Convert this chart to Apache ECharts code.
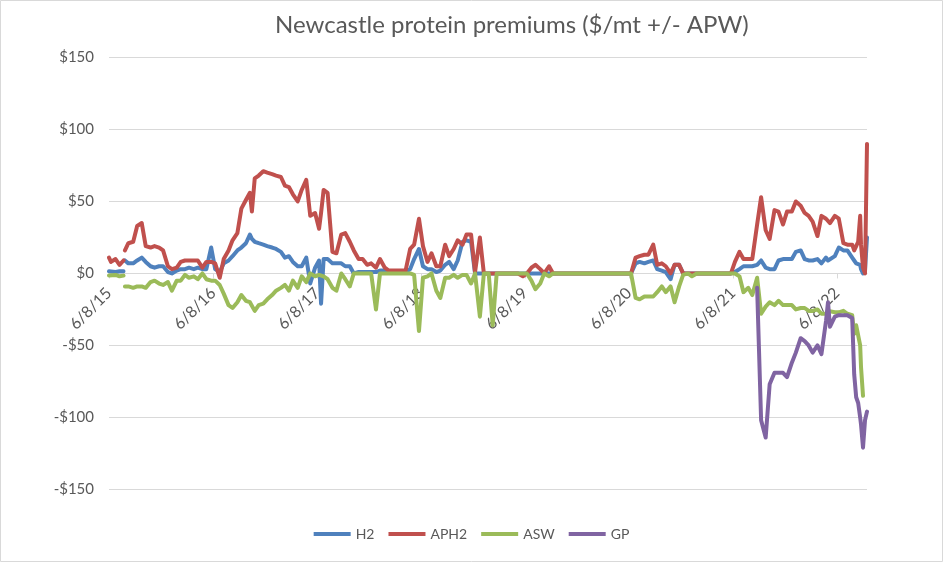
<!DOCTYPE html>
<html>
<head>
<meta charset="utf-8">
<script src="https://cdn.jsdelivr.net/npm/echarts@6/dist/echarts.min.js"></script>
<style>
html,body{margin:0;padding:0;background:#fff;}
#chart{width:943px;height:562px;}
</style>
</head>
<body>
<div id="chart"></div>
<script>
// ---- data ----
const dates = [
'2015-06-08','2015-06-15','2015-07-01','2015-07-15','2015-07-29','2015-07-31','2015-08-03','2015-08-15',
'2015-09-01','2015-09-15','2015-10-01','2015-10-15','2015-11-01','2015-11-15','2015-12-01','2015-12-15',
'2016-01-01','2016-01-15','2016-02-01','2016-02-15','2016-03-01','2016-03-15','2016-04-01','2016-04-15',
'2016-05-01','2016-05-15','2016-06-01','2016-06-15','2016-07-01','2016-07-15','2016-08-01','2016-08-15',
'2016-09-01','2016-09-15','2016-10-01','2016-10-15','2016-10-22','2016-11-01','2016-11-15','2016-12-01','2016-12-15',
'2017-01-01','2017-01-15','2017-02-01','2017-02-15','2017-03-01','2017-03-15','2017-04-01','2017-04-15',
'2017-05-01','2017-05-15','2017-06-01','2017-06-15','2017-06-22','2017-07-01','2017-07-15','2017-08-01','2017-08-15',
'2017-09-01','2017-09-15','2017-10-01','2017-10-15','2017-11-01','2017-11-15','2017-12-01','2017-12-15',
'2018-01-01','2018-01-15','2018-02-01','2018-02-15','2018-03-01','2018-03-15','2018-04-01','2018-04-15',
'2018-05-01','2018-05-15','2018-06-01','2018-06-15','2018-07-01','2018-07-15','2018-08-01','2018-08-15',
'2018-09-01','2018-09-15','2018-10-01','2018-10-15','2018-11-01','2018-11-15','2018-12-01','2018-12-15',
'2019-01-01','2019-01-15','2019-02-01','2019-02-15','2019-03-01','2019-03-15','2019-04-01','2019-04-15',
'2019-05-01','2019-05-15','2019-06-01','2019-06-15','2019-07-01','2019-07-15','2019-08-01','2019-08-15',
'2019-09-01','2019-09-15','2019-10-01','2019-10-15','2019-11-01','2019-11-15','2019-12-01','2019-12-15',
'2020-01-01','2020-01-15','2020-02-01','2020-02-15','2020-03-01','2020-03-15','2020-04-01','2020-04-15',
'2020-05-01','2020-05-15','2020-06-01','2020-06-15','2020-07-01','2020-07-15','2020-08-01','2020-08-15',
'2020-09-01','2020-09-15','2020-10-01','2020-10-15','2020-11-01','2020-11-15','2020-12-01','2020-12-15',
'2021-01-01','2021-01-15','2021-02-01','2021-02-15','2021-03-01','2021-03-15','2021-04-01','2021-04-15',
'2021-05-01','2021-05-15','2021-06-01','2021-06-15','2021-07-01','2021-07-15','2021-08-01','2021-08-15',
'2021-09-01','2021-09-15','2021-10-01','2021-10-15','2021-11-01','2021-11-15','2021-12-01','2021-12-15',
'2022-01-01','2022-01-15','2022-02-01','2022-02-15','2022-03-01','2022-03-15','2022-04-01','2022-04-15',
'2022-05-01','2022-05-08','2022-05-15','2022-06-01','2022-06-15','2022-07-01','2022-07-15',
'2022-08-01','2022-08-08','2022-08-15','2022-08-22','2022-08-29','2022-09-01','2022-09-08','2022-09-15','2022-09-22'
];

const H2 = [
1.5,1.5,1,1.5,1.5,null,9,7, 7,9,11,8,5,4,5,5,
1,0,2,3,3,4,3,4, 3,3,18,3,1,7,9,12,
16,18,21,27,24,22,21,20,19,
18,17,15,11,12,8,5,5, 11,-7,4,9,-21,10,10,7,7,
7,5,5,0,1,1,1,1,
1,2,2,1,1,1,1,1, 3,10,17,5,3,3,1,2,
6,8,3,9,22,23,22,0,
0,0,0,0,0,0,0,0, 0,0,0,0,0,0,0,0,
0,0,0,0,0,0,0,0, 0,0,0,0,0,0,0,0,
0,0,0,0,7,8,7,8, 9,3,2,1,-4,6,6,0,
0,0,0,0,0,0,0,0, 0,0,0,1,3,5,5,5,
6,9,4,3,3,9,10,10, 10,15,16,10,9,9,10,7,
11,9,8,12,18,16,16, 11,9,7,6,6,3,0,2,25
];

const APH2 = [
11,8,10,6,9,null,16,21, 22,33,35,19,18,19,18,16,
5,3,4,8,9,9,9,9, 4,8,8,7,-3,10,16,23,
28,45,51,56,43,66,68,71,70,
69,68,67,61,60,55,50,58, 65,40,42,31,42,58,56,15,14,
27,28,22,16,10,10,6,7,
4,10,4,2,2,2,2,2, 17,20,38,19,8,14,5,5,
20,12,17,23,20,27,27,1,
25,0,0,0,0,0,0,0, 0,0,-2,0,4,6,3,0,
5,0,0,0,0,0,0,0, 0,0,0,0,0,0,0,0,
0,0,0,0,11,12,13,13, 20,6,7,5,0,6,6,0,
0,0,0,0,0,0,0,0, 0,0,0,8,15,10,10,10,
34,53,30,24,44,43,34,43, 43,50,47,42,40,36,26,40,
38,39,35,40,38,21,20, 20,16,19,22,40,20,4,0,90
];

const ASW = [
-1.5,-2,-1,-2,-1.5,null,-9,-9, -10,-9,-9,-10,-6,-5,-7,-8,
-6,-12,-5,-5,-1,-3,-2,-4, 0,-4,-5,-5,-8,-14,-22,-24,
-20,-15,-19,-20,-20,-26,-22,-21,-18,
-15,-12,-10,-8,-12,-5,-10,-2, -6,0,-2,-1,-1,-2,-4,-10,-12,
0,-4,-9,0,0,0,0,0,
-25,0,0,0,0,0,0,0, 0,-1,-40,-3,-2,0,-12,-17,
-3,-3,-1,-3,-1,-1,-7,0,
-30,0,0,-36,0,0,0,0, 0,0,0,0,-5,-11,-7,0,
-2,0,0,0,0,0,0,0, 0,0,0,0,0,0,0,0,
0,0,0,0,-17,-18,-16,-16, -16,-13,-9,-13,-9,-20,-9,-1,
0,-2,0,0,0,0,0,0, 0,0,0,0,-2,-13,-10,-15,
-3,-28,-23,-20,-22,-19,-22,-22, -22,-25,-24,-24,-26,-26,-25,-28,
-28,-26,-27,-27,-27,-26,-28, -29,-42,-36,-35,-50,-65,-85,null,null
];

const GP = [
null,null,null,null,null,null,null,null, null,null,null,null,null,null,null,null,
null,null,null,null,null,null,null,null, null,null,null,null,null,null,null,null,
null,null,null,null,null,null,null,null,null,
null,null,null,null,null,null,null,null, null,null,null,null,null,null,null,null,null,
null,null,null,null,null,null,null,null,
null,null,null,null,null,null,null,null, null,null,null,null,null,null,null,null,
null,null,null,null,null,null,null,null,
null,null,null,null,null,null,null,null, null,null,null,null,null,null,null,null,
null,null,null,null,null,null,null,null, null,null,null,null,null,null,null,null,
null,null,null,null,null,null,null,null, null,null,null,null,null,null,null,null,
null,null,null,null,null,null,null,null, null,null,null,null,null,null,null,null,
-10,-102,-114,-77,-69,-69,-69,-72, -62,-55,-45,-47,-50,-55,-50,-56,
-33,-20,-37,-30,-29,-29,-29, -31,-70,-86,-90,-100,-105,-121,-102,-96
];

const seriesNames = ['H2','APH2','ASW','GP'];
const seriesColors = ['#4F81BD','#C0504D','#9BBB59','#8064A2'];
const tickDates = ['2015-06-08','2016-06-08','2017-06-08','2018-06-08','2019-06-08','2020-06-08','2021-06-08','2022-06-08'];
const tickLabels = ['6/8/15','6/8/16','6/8/17','6/8/18','6/8/19','6/8/20','6/8/21','6/8/22'];
const yTicks = [-150,-100,-50,0,50,100,150];

// ---- build ----
const t0 = Date.parse(dates[0]);
const dayOf = d => (Date.parse(d) - t0) / 86400000;
const days = dates.map(dayOf);
const tickDays = tickDates.map(dayOf);
const values = [H2, APH2, ASW, GP];

const series = values.map((arr, k) => ({
  name: seriesNames[k],
  type: 'line',
  showSymbol: false,
  symbol: 'none',
  connectNulls: false,
  animation: false,
  lineStyle: { width: 4, color: seriesColors[k], cap: 'round', join: 'round' },
  itemStyle: { color: seriesColors[k] },
  data: (k === 3)
    ? days.map((x, i) => [x, arr[i]]).filter(p => p[1] !== null)
    : days.map((x, i) => [x, arr[i] === null ? '-' : arr[i]])
}));

// grid layout; the date axis is drawn across the zero line
const GRID = { left: 109, right: 76, top: 57.5, bottom: 72.6 };
const H = 562;
const yMin = yTicks[0], yMax = yTicks[yTicks.length - 1];
const plotH = H - GRID.top - GRID.bottom;
const zeroOffset = -plotH * (0 - yMin) / (yMax - yMin);

const FONT = 'Lato, "Open Sans", sans-serif';
const chart = echarts.init(document.getElementById('chart'), null, { renderer: 'canvas' });
chart.setOption({
  animation: false,
  backgroundColor: '#fff',
  textStyle: { fontFamily: FONT },
  title: {
    text: 'Newcastle protein premiums ($/mt +/- APW)',
    left: 270, top: 8,
    textStyle: { fontFamily: FONT, fontSize: 24, fontWeight: 'normal', color: '#595959' }
  },
  legend: {
    data: seriesNames,
    left: 'center', top: 522,
    icon: 'rect', itemWidth: 37, itemHeight: 4, itemGap: 14,
    textStyle: { fontFamily: FONT, fontSize: 14, color: '#595959' }
  },
  grid: GRID,
  xAxis: {
    type: 'value',
    position: 'bottom',
    offset: zeroOffset,
    min: 0,
    max: days[days.length - 1],
    interval: 365.25,
    axisLine: { show: true, onZero: false, lineStyle: { color: '#D9D9D9', width: 1 } },
    axisTick: { show: true, length: 5, lineStyle: { color: '#D9D9D9' }, customValues: tickDays },
    splitLine: { show: false },
    axisLabel: {
      rotate: 45, margin: 17, color: '#595959', fontSize: 16, fontFamily: FONT,
      customValues: tickDays,
      formatter: v => {
        for (let i = 0; i < tickDays.length; i++) if (Math.abs(tickDays[i] - v) < 2) return tickLabels[i];
        return '';
      }
    }
  },
  yAxis: {
    type: 'value',
    min: yMin, max: yMax, interval: 50,
    axisLine: { show: false, onZero: false }, axisTick: { show: false },
    splitLine: { lineStyle: { color: '#D9D9D9', width: 1 } },
    axisLabel: {
      margin: 15, color: '#595959', fontSize: 15, fontFamily: FONT,
      formatter: v => (v < 0 ? '-$' + Math.abs(v) : '$' + v)
    }
  },
  graphic: [{
    type: 'rect', silent: true, z: 100,
    shape: { x: 0.5, y: 0.5, width: 942, height: 561 },
    style: { fill: 'none', stroke: '#D9D9D9', lineWidth: 1 }
  }],
  series: series
});
</script>
</body>
</html>
